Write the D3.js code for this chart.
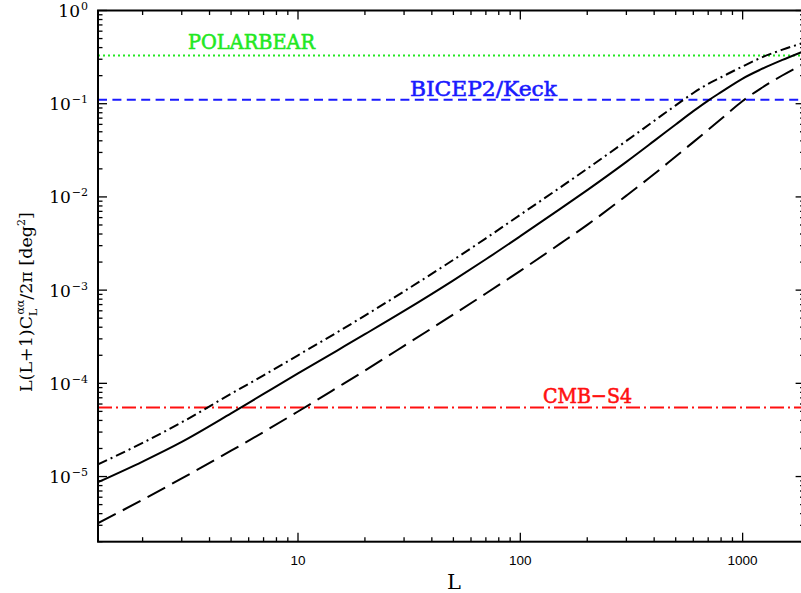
<!DOCTYPE html>
<html>
<head>
<meta charset="utf-8">
<script src="https://cdn.jsdelivr.net/npm/d3@7"></script>
<style>
  html, body { margin: 0; padding: 0; background: #fff; }
  svg { display: block; }
</style>
</head>
<body>
<svg id="chart" width="801" height="593"></svg>
<script>
// ---------------- data ----------------
const multipoles = [1.26, 2, 3, 5, 7, 10, 15, 20, 30, 50, 70, 100, 150, 200, 300, 400, 500, 600, 700, 800, 1000, 1200, 1500, 1900];
const solidCurve = [8.71e-6, 1.449e-5, 2.355e-5, 4.764e-5, 7.691e-5, 1.276e-4, 2.249e-4, 3.365e-4, 5.984e-4, 1.274e-3, 2.143e-3, 3.793e-3, 7.345e-3, 1.183e-2, 2.377e-2, 3.990e-2, 5.984e-2, 8.318e-2, 0.1081, 0.1330, 0.1862, 0.2317, 0.2931, 0.3690];
const dashDotCurve = [1.349e-5, 2.296e-5, 3.819e-5, 7.727e-5, 1.219e-4, 2.000e-4, 3.524e-4, 5.333e-4, 9.705e-4, 2.113e-3, 3.597e-3, 6.442e-3, 1.247e-2, 2.009e-2, 3.990e-2, 6.546e-2, 9.594e-2, 0.1303, 0.1637, 0.1923, 0.2512, 0.3090, 0.3776, 0.4539];
const longDashCurve = [3.162e-6, 5.636e-6, 9.550e-6, 1.892e-5, 3.006e-5, 4.989e-5, 8.995e-5, 1.371e-4, 2.523e-4, 5.483e-4, 9.204e-4, 1.611e-3, 3.112e-3, 5.012e-3, 1.033e-2, 1.758e-2, 2.716e-2, 3.873e-2, 5.248e-2, 6.839e-2, 0.1069, 0.1445, 0.1995, 0.2710];

const experimentNames = ["POLARBEAR", "BICEP2/Keck", "CMB−S4"];
const experimentLimits = [0.33, 0.11, 5.5e-5];

const xTickValues = [10, 100, 1000];
const xTickLabels = ["10", "100", "1000"];
const yTickValues = [1, 1e-1, 1e-2, 1e-3, 1e-4, 1e-5];
const yTickExponents = ["0", "−1", "−2", "−3", "−4", "−5"];

// ---------------- layout ----------------
const svg = d3.select("#chart");
const pLeft = 98, pRight = 804.6, pTop = 10.5, pBottom = 541.7;

const x = d3.scaleLog().domain([1.26, 1900]).range([pLeft, pRight]);
const y = d3.scaleLog().domain([2e-6, 1]).range([pBottom, pTop]);

svg.append("rect").attr("width", 801).attr("height", 593).attr("fill", "#fff");

const defs = svg.append("defs");
defs.append("clipPath").attr("id", "plotclip")
  .append("rect").attr("x", pLeft).attr("y", pTop).attr("width", pRight - pLeft).attr("height", pBottom - pTop);

const plot = svg.append("g").attr("clip-path", "url(#plotclip)");

// experiment limit lines
const limitColors = ["#22e822", "#1a1aff", "#ff1010"];
const limitDash = ["2,3", "9,5.4", "14,4,2,4"];
experimentLimits.forEach((v, i) => {
  plot.append("line")
    .attr("x1", pLeft).attr("x2", pRight)
    .attr("y1", y(v)).attr("y2", y(v))
    .attr("stroke", limitColors[i]).attr("stroke-width", 2)
    .attr("stroke-dasharray", limitDash[i]);
});

// curves
const line = d3.line()
  .x(d => x(d[0]))
  .y(d => y(d[1]))
  .curve(d3.curveMonotoneX);

const curves = [
  { values: dashDotCurve, dash: "10,4,2,4" },
  { values: solidCurve, dash: null },
  { values: longDashCurve, dash: "20,8" }
];
curves.forEach(c => {
  const pts = multipoles.map((L, i) => [L, c.values[i]]);
  const p = plot.append("path")
    .attr("d", line(pts))
    .attr("fill", "none")
    .attr("stroke", "#000")
    .attr("stroke-width", 2);
  if (c.dash) p.attr("stroke-dasharray", c.dash);
});

// experiment labels
const labelPos = [[188, 49, 127], [410, 96, 147], [543, 403, 89]];
experimentNames.forEach((name, i) => {
  svg.append("text")
    .attr("x", labelPos[i][0]).attr("y", labelPos[i][1])
    .attr("textLength", labelPos[i][2])
    .attr("lengthAdjust", "spacingAndGlyphs")
    .attr("font-family", "DejaVu Serif")
    .attr("font-size", 21)
    .attr("fill", limitColors[i])
    .attr("stroke", limitColors[i])
    .attr("stroke-width", 0.6)
    .text(name);
});

// frame
svg.append("rect")
  .attr("x", pLeft).attr("y", pTop)
  .attr("width", pRight - pLeft).attr("height", pBottom - pTop)
  .attr("fill", "none").attr("stroke", "#000").attr("stroke-width", 2);

// ticks
const ticks = svg.append("g").attr("stroke", "#000").attr("stroke-width", 1.3);
const xDom = x.domain(), yDom = y.domain();
for (let d = 1; d <= 1000; d *= 10) {
  for (let m = 1; m <= 9; m++) {
    const v = d * m;
    if (v < xDom[0] || v > xDom[1]) continue;
    const len = m === 1 ? 9 : 4.5;
    const xp = x(v);
    ticks.append("line").attr("x1", xp).attr("x2", xp).attr("y1", pBottom).attr("y2", pBottom - len);
    ticks.append("line").attr("x1", xp).attr("x2", xp).attr("y1", pTop).attr("y2", pTop + len);
  }
}
for (let e = -6; e <= 0; e++) {
  for (let m = 1; m <= 9; m++) {
    const v = m * Math.pow(10, e);
    if (v < yDom[0] * 0.999 || v > yDom[1] * 1.001) continue;
    const len = m === 1 ? 9 : 4.5;
    const yp = y(v);
    ticks.append("line").attr("x1", pLeft).attr("x2", pLeft + len).attr("y1", yp).attr("y2", yp);
    ticks.append("line").attr("x1", pRight).attr("x2", pRight - len).attr("y1", yp).attr("y2", yp);
  }
}

// x tick labels
xTickValues.forEach((v, i) => {
  svg.append("text")
    .attr("x", x(v)).attr("y", 565)
    .attr("text-anchor", "middle")
    .attr("font-family", "Liberation Sans, Arial, sans-serif")
    .attr("font-size", 13.5)
    .attr("fill", "#000")
    .text(xTickLabels[i]);
});

// y tick labels
yTickValues.forEach((v, i) => {
  const t = svg.append("text")
    .attr("x", 88).attr("y", y(v) + 6.5)
    .attr("text-anchor", "end")
    .attr("font-family", "DejaVu Serif")
    .attr("font-size", 17)
    .attr("fill", "#000");
  t.append("tspan").text("10");
  t.append("tspan").attr("font-size", 11).attr("dy", -7).attr("dx", 1).text(yTickExponents[i]);
});

// axis titles
svg.append("text")
  .attr("x", 454).attr("y", 589)
  .attr("text-anchor", "middle")
  .attr("font-family", "DejaVu Serif")
  .attr("font-size", 21)
  .attr("fill", "#000")
  .text("L");

const yt = svg.append("text")
  .attr("transform", "translate(32,392) rotate(-90)")
  .attr("text-anchor", "start")
  .attr("font-family", "DejaVu Serif")
  .attr("font-size", 17.5)
  .attr("fill", "#000");
yt.append("tspan").text("L(L+1)C");
yt.append("tspan").attr("font-size", 11).attr("dy", 5).text("L");
yt.append("tspan").attr("font-size", 11).attr("dx", -6).attr("dy", -13).text("αα");
yt.append("tspan").attr("dy", 8).text("/2π [deg");
yt.append("tspan").attr("font-size", 11).attr("dy", -7).text("2");
yt.append("tspan").attr("dy", 7).text("]");
</script>
</body>
</html>
